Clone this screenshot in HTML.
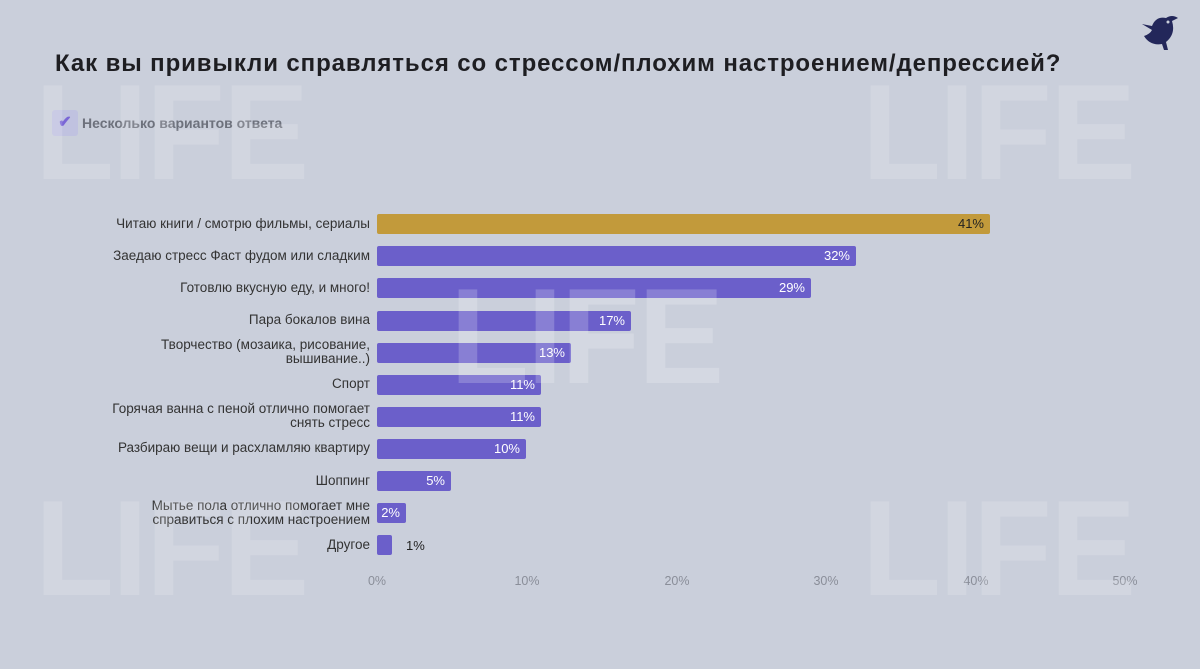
<!DOCTYPE html>
<html><head><meta charset="utf-8"><style>
body{margin:0;width:1200px;height:669px;background:#cacfdb;font-family:"Liberation Sans",sans-serif;position:relative;overflow:hidden}
.wm{position:absolute;font-weight:bold;font-size:136px;color:rgba(255,255,255,0.16);letter-spacing:-2px;line-height:1;z-index:5;transform:scaleX(0.95);transform-origin:left top}
.title{position:absolute;left:55px;top:50px;font-size:24px;color:#1e1e22;font-weight:bold;letter-spacing:0.9px}
.chk{position:absolute;left:52px;top:110px;width:26px;height:26px;background:#c0c2e0;border-radius:3px;color:#7a66d6;font-size:16px;text-align:center;line-height:26px;font-weight:bold}
.sub{position:absolute;left:82px;top:115px;font-size:14px;color:#6d717c;font-weight:bold}
.lab{position:absolute;right:830px;font-size:13.5px;color:#333;text-align:right;line-height:14px}
.bar{position:absolute;left:377px;height:20px;background:#6b5fca;border-radius:2px;color:#fff;font-size:13px;text-align:right;line-height:20px;box-sizing:border-box;padding-right:6px}
.tick{position:absolute;top:574px;font-size:12.5px;color:#8a8e99;width:60px;text-align:center}
</style></head><body>
<div class="wm" style="left:35px;top:64px">LIFE</div>
<div class="wm" style="left:862px;top:64px">LIFE</div>
<div class="wm" style="left:35px;top:480px">LIFE</div>
<div class="wm" style="left:862px;top:480px">LIFE</div>
<div class="wm" style="left:450px;top:268px;color:rgba(255,255,255,0.2)">LIFE</div>
<svg style="position:absolute;left:1138px;top:12px" width="46" height="40" viewBox="0 0 46 40"><path d="M4 12 L14 14 Q18 4 28 6 Q34 2 40 6 L34 9 Q38 22 28 30 L30 38 L26 38 L24 32 Q12 34 6 24 Q12 22 14 18 Z" fill="#23275a"/><circle cx="30" cy="10" r="1.5" fill="#cacfdb"/></svg>
<div class="title">Как вы привыкли справляться со стрессом/плохим настроением/депрессией?</div>
<div class="chk">✔</div>
<div class="sub">Несколько вариантов ответа</div>

<div class="lab" style="top:217px">Читаю книги / смотрю фильмы, сериалы</div>
<div class="lab" style="top:249px">Заедаю стресс Фаст фудом или сладким</div>
<div class="lab" style="top:281px">Готовлю вкусную еду, и много!</div>
<div class="lab" style="top:313px">Пара бокалов вина</div>
<div class="lab" style="top:338px">Творчество (мозаика, рисование,<br>вышивание..)</div>
<div class="lab" style="top:377px">Спорт</div>
<div class="lab" style="top:402px">Горячая ванна с пеной отлично помогает<br>снять стресс</div>
<div class="lab" style="top:441px">Разбираю вещи и расхламляю квартиру</div>
<div class="lab" style="top:474px">Шоппинг</div>
<div class="lab" style="top:499px">Мытье пола отлично помогает мне<br>справиться с плохим настроением</div>
<div class="lab" style="top:538px">Другое</div>

<div class="bar" style="top:214px;width:613px;background:#c29a3b;color:#222">41%</div>
<div class="bar" style="top:246px;width:479px">32%</div>
<div class="bar" style="top:278px;width:434px">29%</div>
<div class="bar" style="top:311px;width:254px">17%</div>
<div class="bar" style="top:343px;width:194px">13%</div>
<div class="bar" style="top:375px;width:164px">11%</div>
<div class="bar" style="top:407px;width:164px">11%</div>
<div class="bar" style="top:439px;width:149px">10%</div>
<div class="bar" style="top:471px;width:74px">5%</div>
<div class="bar" style="top:503px;width:29px">2%</div>
<div class="bar" style="top:535px;width:15px;padding:0"></div>
<div style="position:absolute;left:406px;top:538px;font-size:13px;color:#222">1%</div>

<div class="tick" style="left:347px">0%</div>
<div class="tick" style="left:497px">10%</div>
<div class="tick" style="left:647px">20%</div>
<div class="tick" style="left:796px">30%</div>
<div class="tick" style="left:946px">40%</div>
<div class="tick" style="left:1095px">50%</div>
</body></html>
